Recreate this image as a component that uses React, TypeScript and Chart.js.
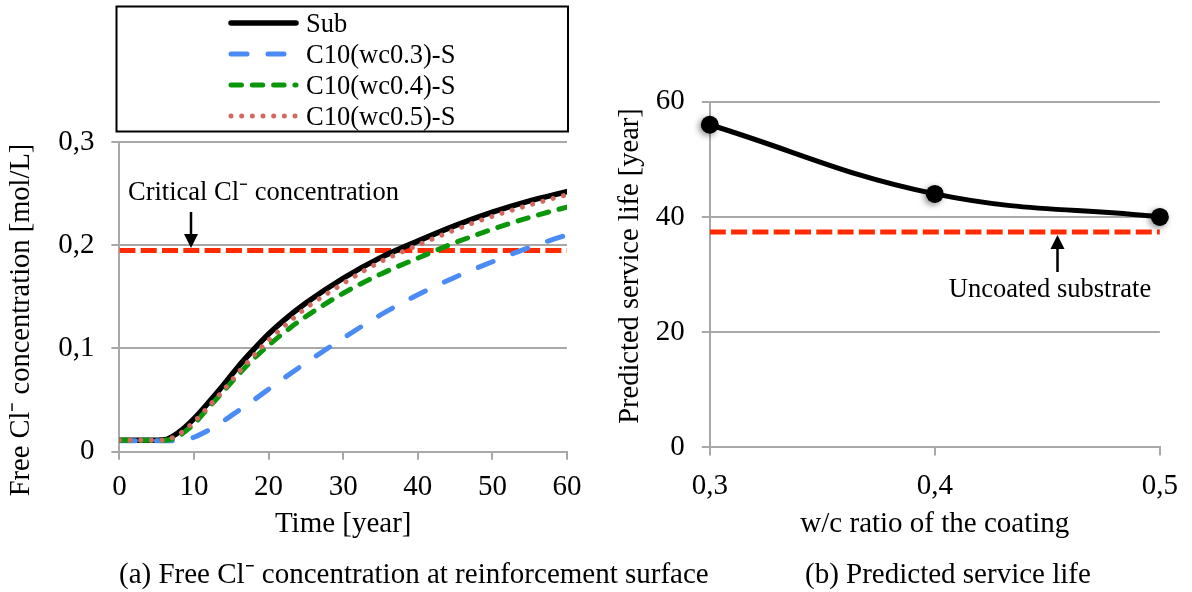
import React, { useEffect, useRef } from "react";
import { Chart, registerables } from "chart.js";

Chart.register(...registerables);

const FONT = "'Liberation Serif', 'Times New Roman', serif";
const GRAY = "#a8a8a8";

// ---------- (a) Free Cl- concentration at reinforcement surface ----------
const years = [0, 2, 4, 6, 8, 10, 12, 14, 16, 18, 20, 22, 25, 30, 35, 40, 45, 50, 55, 60];
const subValues = [0.011, 0.011, 0.011, 0.0115, 0.019, 0.032, 0.048, 0.065, 0.083, 0.099, 0.114, 0.127, 0.144, 0.168, 0.188, 0.204, 0.219, 0.232, 0.243, 0.252];
const wc03Values = [0.0105, 0.0105, 0.0105, 0.0105, 0.0108, 0.014, 0.021, 0.03, 0.04, 0.05, 0.0605, 0.071, 0.086, 0.11, 0.1325, 0.152, 0.169, 0.184, 0.198, 0.21];
const wc04Values = [0.011, 0.011, 0.011, 0.011, 0.0155, 0.027, 0.043, 0.059, 0.075, 0.09, 0.103, 0.115, 0.131, 0.1535, 0.172, 0.1875, 0.2025, 0.2155, 0.227, 0.237];
const wc05Values = [0.011, 0.011, 0.011, 0.0113, 0.017, 0.029, 0.044, 0.06, 0.077, 0.093, 0.108, 0.121, 0.139, 0.163, 0.184, 0.2, 0.215, 0.228, 0.239, 0.249];
const criticalCl = 0.195;
const seriesLabels = ["Sub", "C10(wc0.3)-S", "C10(wc0.4)-S", "C10(wc0.5)-S"];
const timeTicks = [0, 10, 20, 30, 40, 50, 60];
const timeTickLabels = ["0", "10", "20", "30", "40", "50", "60"];
const concTicks = [0, 0.1, 0.2, 0.3];
const concTickLabels = ["0", "0,1", "0,2", "0,3"];

// ---------- (b) Predicted service life ----------
const wcRatios = [0.3, 0.4, 0.5];
const wcTickLabels = ["0,3", "0,4", "0,5"];
const serviceLife = [56, 44, 40];
const uncoatedLife = 37.4;
const lifeTicks = [0, 20, 40, 60];
const lifeTickLabels = ["0", "20", "40", "60"];

const seriesStyles = [
  { color: "#000000", dash: [] as number[], cap: "round", width: 5.5 },
  { color: "#4a8bf5", dash: [16, 21], cap: "round", width: 5 },
  { color: "#0a980a", dash: [10.5, 10.8], cap: "round", width: 5 },
  { color: "#d2695f", dash: [0.01, 10.66], cap: "round", width: 5 },
];
const criticalStyle = { color: "#ff2a00", dash: [16, 5.3], width: 5 };

const toPts = (xs: number[], ys: number[]) => xs.map((x, i) => ({ x, y: ys[i] }));

function drawArrow(ctx: CanvasRenderingContext2D, x: number, yFrom: number, yTip: number) {
  const dir = yTip > yFrom ? 1 : -1;
  const headLen = 14;
  ctx.save();
  ctx.strokeStyle = "#000";
  ctx.fillStyle = "#000";
  ctx.lineWidth = 2.5;
  ctx.beginPath();
  ctx.moveTo(x, yFrom);
  ctx.lineTo(x, yTip - dir * headLen);
  ctx.stroke();
  ctx.beginPath();
  ctx.moveTo(x - 7, yTip - dir * headLen);
  ctx.lineTo(x + 7, yTip - dir * headLen);
  ctx.lineTo(x, yTip);
  ctx.closePath();
  ctx.fill();
  ctx.restore();
}

function drawRotated(ctx: CanvasRenderingContext2D, text: string, cx: number, cy: number, size: number) {
  ctx.save();
  ctx.translate(cx, cy);
  ctx.rotate(-Math.PI / 2);
  ctx.font = `${size}px ${FONT}`;
  ctx.fillStyle = "#000";
  ctx.textAlign = "center";
  ctx.textBaseline = "middle";
  ctx.fillText(text, 0, 0);
  ctx.restore();
}

const leftDecor = {
  id: "leftDecor",
  afterDraw(chart: any) {
    const ctx: CanvasRenderingContext2D = chart.ctx;
    ctx.save();
    // legend box
    ctx.strokeStyle = "#000";
    ctx.lineWidth = 2;
    ctx.strokeRect(116.5, 6.5, 451.5, 125);
    seriesLabels.forEach((label, i) => {
      const st = seriesStyles[i];
      const y = 23 + i * 31;
      ctx.save();
      ctx.strokeStyle = st.color;
      ctx.lineWidth = st.width;
      ctx.lineCap = st.cap as CanvasLineCap;
      ctx.setLineDash(st.dash);
      ctx.beginPath();
      ctx.moveTo(231, y);
      ctx.lineTo(296, y);
      ctx.stroke();
      ctx.restore();
      ctx.font = `26.5px ${FONT}`;
      ctx.fillStyle = "#000";
      ctx.textAlign = "left";
      ctx.textBaseline = "middle";
      ctx.fillText(label, 306, y + 2);
    });
    // critical annotation
    ctx.font = `26.5px ${FONT}`;
    ctx.fillStyle = "#000";
    ctx.textAlign = "left";
    ctx.textBaseline = "middle";
    ctx.fillText("Critical Cl\u207B concentration", 128, 193);
    drawArrow(ctx, 191, 212, 248);
    // y title
    drawRotated(ctx, "Free Cl\u207B concentration [mol/L]", 22, 320, 28.5);
    // caption
    ctx.font = `29px ${FONT}`;
    ctx.textAlign = "left";
    ctx.textBaseline = "middle";
    ctx.fillText("(a) Free Cl\u207B concentration at reinforcement surface", 119, 575);
    ctx.restore();
  },
};

const rightDecor = {
  id: "rightDecor",
  beforeDatasetDraw(chart: any, args: any) {
    if (args.index === 0) {
      const ctx = chart.ctx;
      ctx.save();
      ctx.shadowColor = "rgba(0,0,0,0.45)";
      ctx.shadowBlur = 6;
      ctx.shadowOffsetX = -2;
      ctx.shadowOffsetY = 2;
    }
  },
  afterDatasetDraw(chart: any, args: any) {
    if (args.index === 0) chart.ctx.restore();
  },
  afterDraw(chart: any) {
    const ctx: CanvasRenderingContext2D = chart.ctx;
    ctx.save();
    drawRotated(ctx, "Predicted service life [year]", 631, 266, 28.5);
    drawArrow(ctx, 1057.5, 272, 235);
    ctx.font = `26.5px ${FONT}`;
    ctx.fillStyle = "#000";
    ctx.textAlign = "center";
    ctx.textBaseline = "middle";
    ctx.fillText("Uncoated substrate", 1050, 290);
    ctx.font = `29px ${FONT}`;
    ctx.textAlign = "left";
    ctx.fillText("(b) Predicted service life", 805, 575);
    ctx.restore();
  },
};

const tickFont = { family: FONT, size: 29 };

function leftConfig(): any {
  const lineDs = (i: number, values: number[], order: number) => ({
    label: seriesLabels[i],
    data: toPts(years, values),
    borderColor: seriesStyles[i].color,
    borderWidth: seriesStyles[i].width,
    borderDash: seriesStyles[i].dash,
    borderCapStyle: seriesStyles[i].cap,
    pointRadius: 0,
    cubicInterpolationMode: "monotone",
    fill: false,
    order,
  });
  return {
    type: "line",
    data: {
      datasets: [
        lineDs(3, wc05Values, 1),
        lineDs(2, wc04Values, 2),
        lineDs(1, wc03Values, 3),
        lineDs(0, subValues, 4),
        {
          label: "Critical Cl- concentration",
          data: [
            { x: timeTicks[0], y: criticalCl },
            { x: timeTicks[timeTicks.length - 1], y: criticalCl },
          ],
          borderColor: criticalStyle.color,
          borderWidth: criticalStyle.width,
          borderDash: criticalStyle.dash,
          borderCapStyle: "butt",
          pointRadius: 0,
          fill: false,
          order: 5,
        },
      ],
    },
    options: {
      responsive: false,
      maintainAspectRatio: false,
      animation: false,
      events: [],
      layout: { padding: { left: 0, top: 142, right: 1192 - 567, bottom: 592 - 451.7 - 89.7 } },
      plugins: { legend: { display: false }, tooltip: { enabled: false }, title: { display: false } },
      scales: {
        x: {
          type: "linear",
          min: 0,
          max: 60,
          afterBuildTicks: (s: any) => {
            s.ticks = timeTicks.map((v) => ({ value: v }));
          },
          ticks: { font: tickFont, color: "#000", padding: 10, maxRotation: 0, callback: (_v: any, i: number) => timeTickLabels[i] },
          grid: { drawOnChartArea: false, drawTicks: true, tickLength: 8, color: GRAY, lineWidth: 2 },
          border: { color: GRAY, width: 2 },
          title: { display: true, text: "Time [year]", font: tickFont, color: "#000", padding: 0 },
          afterFit: (s: any) => {
            s.height = 89.7;
          },
        },
        y: {
          type: "linear",
          min: 0,
          max: 0.3,
          afterBuildTicks: (s: any) => {
            s.ticks = concTicks.map((v) => ({ value: v }));
          },
          ticks: { font: tickFont, color: "#000", padding: 17, callback: (_v: any, i: number) => concTickLabels[i] },
          grid: { drawTicks: true, tickLength: 8, color: GRAY, lineWidth: 2 },
          border: { color: GRAY, width: 2 },
          afterFit: (s: any) => {
            s.width = 119.4;
          },
        },
      },
    },
    plugins: [leftDecor],
  };
}

function rightConfig(): any {
  return {
    type: "line",
    data: {
      datasets: [
        {
          label: "Predicted service life (points)",
          data: toPts(wcRatios, serviceLife),
          showLine: false,
          pointRadius: 9,
          pointBackgroundColor: "#000",
          pointBorderWidth: 0,
          clip: false,
          order: 0,
        },
        {
          label: "Predicted service life",
          data: toPts(wcRatios, serviceLife),
          borderColor: "#000",
          borderWidth: 5,
          tension: 0.4,
          pointRadius: 0,
          fill: false,
          order: 1,
        },
        {
          label: "Uncoated substrate",
          data: [
            { x: wcRatios[0], y: uncoatedLife },
            { x: wcRatios[wcRatios.length - 1], y: uncoatedLife },
          ],
          borderColor: criticalStyle.color,
          borderWidth: criticalStyle.width,
          borderDash: criticalStyle.dash,
          borderCapStyle: "butt",
          pointRadius: 0,
          fill: false,
          order: 2,
        },
      ],
    },
    options: {
      responsive: false,
      maintainAspectRatio: false,
      animation: false,
      events: [],
      layout: { padding: { left: 600, top: 101.7, right: 1192 - 1169.7, bottom: 592 - 447.4 - 94 } },
      plugins: { legend: { display: false }, tooltip: { enabled: false }, title: { display: false } },
      scales: {
        x: {
          type: "linear",
          min: 0.3,
          max: 0.5,
          afterBuildTicks: (s: any) => {
            s.ticks = wcRatios.map((v) => ({ value: v }));
          },
          ticks: { font: tickFont, color: "#000", padding: 14, maxRotation: 0, callback: (_v: any, i: number) => wcTickLabels[i] },
          grid: { drawOnChartArea: false, drawTicks: true, tickLength: 8, color: GRAY, lineWidth: 2 },
          border: { color: GRAY, width: 2 },
          title: { display: true, text: "w/c ratio of the coating", font: tickFont, color: "#000", padding: 0 },
          afterFit: (s: any) => {
            s.height = 94;
          },
        },
        y: {
          type: "linear",
          min: 0,
          max: 60,
          afterBuildTicks: (s: any) => {
            s.ticks = lifeTicks.map((v) => ({ value: v }));
          },
          ticks: { font: tickFont, color: "#000", padding: 17, callback: (_v: any, i: number) => lifeTickLabels[i] },
          grid: { drawTicks: true, tickLength: 8, color: GRAY, lineWidth: 2 },
          border: { color: GRAY, width: 2 },
          afterFit: (s: any) => {
            s.width = 109.8;
          },
        },
      },
    },
    plugins: [rightDecor],
  };
}

export default function App() {
  const leftRef = useRef<HTMLCanvasElement>(null);
  const rightRef = useRef<HTMLCanvasElement>(null);
  useEffect(() => {
    const c1 = new Chart(leftRef.current as HTMLCanvasElement, leftConfig());
    const c2 = new Chart(rightRef.current as HTMLCanvasElement, rightConfig());
    return () => {
      c1.destroy();
      c2.destroy();
    };
  }, []);
  return (
    <div style={{ position: "absolute", left: 0, top: 0, width: 1192, height: 592, background: "#fff", overflow: "hidden" }}>
      <canvas ref={leftRef} width={1192} height={592} style={{ position: "absolute", left: 0, top: 0 }} />
      <canvas ref={rightRef} width={1192} height={592} style={{ position: "absolute", left: 0, top: 0 }} />
    </div>
  );
}
